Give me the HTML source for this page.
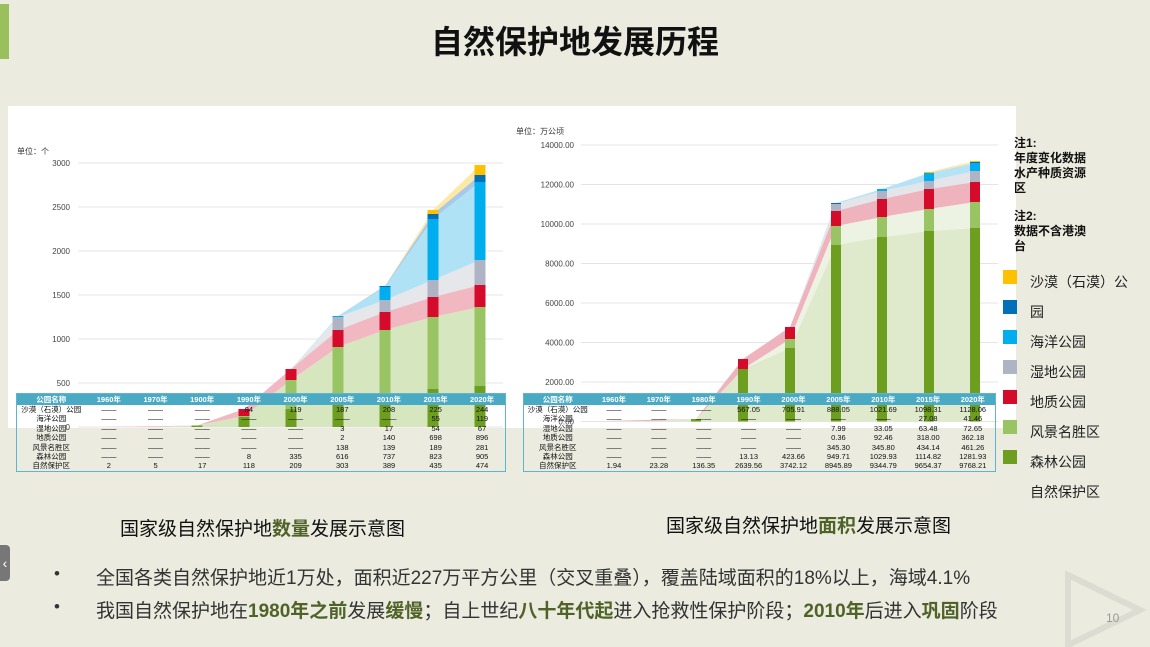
<!DOCTYPE html>
<html><head><meta charset="utf-8"><style>
*{margin:0;padding:0;box-sizing:border-box}
body{width:1150px;height:647px;overflow:hidden;background:#ebebdf;position:relative;font-family:"Liberation Sans","Noto Sans CJK SC",sans-serif}
.abs{position:absolute}
table.t{position:absolute;border-collapse:collapse;table-layout:fixed;font-size:7.5px;color:#111;border:1.5px solid #5fb4cf}
table.t td{padding:0;text-align:center;white-space:nowrap;overflow:hidden;height:9.4px;line-height:9.4px}
table.t tr.h td{background:#4aaac4;color:#fff;font-weight:bold;height:11px;line-height:11px}
.leg{position:absolute;left:1030px;font-size:14px;color:#222}
.sw{position:absolute;left:1003px;width:14px;height:14px}
.b{color:#4f6228;font-weight:bold}
</style></head><body>
<div class="abs" style="left:0;top:4px;width:9px;height:55px;background:#9bbf5a"></div>
<div class="abs" style="left:0;top:22px;width:1150px;text-align:center;font-size:32px;font-weight:bold;color:#111;line-height:40px">自然保护地发展历程</div>
<div class="abs" style="left:8px;top:106px;width:1008px;height:322px;background:#fff"></div>
<svg class="abs" style="left:0;top:0" width="1150" height="647">
<g stroke="#e4e4e4" stroke-width="1">
<line x1="78" x2="503" y1="163" y2="163"/><line x1="78" x2="503" y1="207" y2="207"/><line x1="78" x2="503" y1="251" y2="251"/><line x1="78" x2="503" y1="295" y2="295"/><line x1="78" x2="503" y1="339" y2="339"/><line x1="78" x2="503" y1="383" y2="383"/><line x1="78" x2="503" y1="427" y2="427"/>
<line x1="581" x2="998" y1="145" y2="145"/><line x1="581" x2="998" y1="184.5" y2="184.5"/><line x1="581" x2="998" y1="224" y2="224"/><line x1="581" x2="998" y1="263.5" y2="263.5"/><line x1="581" x2="998" y1="303" y2="303"/><line x1="581" x2="998" y1="342.5" y2="342.5"/><line x1="581" x2="998" y1="382" y2="382"/><line x1="581" x2="998" y1="421.5" y2="421.5"/>
</g>
<g font-size="8" fill="#444" text-anchor="end">
<text x="70" y="166">3000</text><text x="70" y="210">2500</text><text x="70" y="254">2000</text><text x="70" y="298">1500</text><text x="70" y="342">1000</text><text x="70" y="386">500</text><text x="70" y="430">0</text>
<text x="574" y="148">14000.00</text><text x="574" y="187.5">12000.00</text><text x="574" y="227">10000.00</text><text x="574" y="266.5">8000.00</text><text x="574" y="306">6000.00</text><text x="574" y="345.5">4000.00</text><text x="574" y="385">2000.00</text><text x="574" y="424.5">0.00</text>
</g>
<text x="17" y="154" font-size="8" fill="#333">单位：个</text>
<text x="516" y="134" font-size="8" fill="#333">单位：万公顷</text>
<polygon fill="#d6e7c0" points="103,427 150,427 197,425.5 244,416 291,380 338,347 385,330 433,317 480,307 480,427"/>
<polygon fill="#f2b8c2" points="103,427 150,427 197,425.5 244,409 291,369 338,330 385,312 433,297 480,285 480,307 433,317 385,330 338,347 291,380 244,416 197,425.5"/>
<polygon fill="#e5e7eb" points="244,409 291,369 338,317 385,300 433,280 480,260 480,285 433,297 385,312 338,330 291,369"/>
<polygon fill="#b0e2f6" points="291,369 338,316 385,287 433,219 480,182 480,260 433,280 385,300 338,317"/>
<polygon fill="#a9c9e6" points="338,316 385,286 433,214 480,175 480,182 433,219 385,287"/>
<polygon fill="#fde8a6" points="338,316 385,286 433,210 480,165 480,175 433,214 385,286"/>
<g>
<rect x="191.5" y="425.5" width="11" height="1.5" fill="#6e9e1f"/>
<rect x="238.5" y="417" width="11" height="10" fill="#6e9e1f"/><rect x="238.5" y="416" width="11" height="1" fill="#98c464"/><rect x="238.5" y="409" width="11" height="7" fill="#d40b2a"/>
<rect x="285.5" y="409" width="11" height="18" fill="#6e9e1f"/><rect x="285.5" y="380" width="11" height="29" fill="#98c464"/><rect x="285.5" y="369" width="11" height="11" fill="#d40b2a"/>
<rect x="332.5" y="400" width="11" height="27" fill="#6e9e1f"/><rect x="332.5" y="347" width="11" height="53" fill="#98c464"/><rect x="332.5" y="330" width="11" height="17" fill="#d40b2a"/><rect x="332.5" y="317" width="11" height="13" fill="#aeb4c4"/><rect x="332.5" y="316" width="11" height="1" fill="#00aeef"/>
<rect x="379.5" y="393" width="11" height="34" fill="#6e9e1f"/><rect x="379.5" y="330" width="11" height="63" fill="#98c464"/><rect x="379.5" y="312" width="11" height="18" fill="#d40b2a"/><rect x="379.5" y="300" width="11" height="12" fill="#aeb4c4"/><rect x="379.5" y="287" width="11" height="13" fill="#00aeef"/><rect x="379.5" y="286" width="11" height="1" fill="#0070b8"/>
<rect x="427.5" y="389" width="11" height="38" fill="#6e9e1f"/><rect x="427.5" y="317" width="11" height="72" fill="#98c464"/><rect x="427.5" y="297" width="11" height="20" fill="#d40b2a"/><rect x="427.5" y="280" width="11" height="17" fill="#aeb4c4"/><rect x="427.5" y="219" width="11" height="61" fill="#00aeef"/><rect x="427.5" y="214" width="11" height="5" fill="#0070b8"/><rect x="427.5" y="210" width="11" height="4" fill="#ffc000"/>
<rect x="474.5" y="386" width="11" height="41" fill="#6e9e1f"/><rect x="474.5" y="307" width="11" height="79" fill="#98c464"/><rect x="474.5" y="285" width="11" height="22" fill="#d40b2a"/><rect x="474.5" y="260" width="11" height="25" fill="#aeb4c4"/><rect x="474.5" y="182" width="11" height="78" fill="#00aeef"/><rect x="474.5" y="175" width="11" height="7" fill="#0070b8"/><rect x="474.5" y="165" width="11" height="10" fill="#ffc000"/>
</g>
<polygon fill="#dfeacd" points="603,421 650,421 696,419 743,369 790,348 836,245 882,237 929,231 975,228 975,421.5 603,421.5"/>
<polygon fill="#edf3e3" points="743,369 790,339 836,226 882,217 929,209 975,202 975,228 929,231 882,237 836,245 790,348"/>
<polygon fill="#efb3bd" points="603,421 650,421 696,419 743,359 790,327 836,211 882,199 929,189 975,182 975,202 929,209 882,217 836,226 790,339 743,369 696,419"/>
<polygon fill="#e3e5ea" points="790,327 836,204 882,191 929,181 975,171 975,182 929,189 882,199 836,211"/>
<polygon fill="#b5e3f5" points="790,327 836,203 882,189 929,173 975,163 975,171 929,181 882,191 836,204"/>
<polygon fill="#fde8a6" points="929,172 975,161 975,163 929,173"/>
<g>
<rect x="691" y="419" width="10" height="2.5" fill="#6e9e1f"/>
<rect x="738" y="369" width="10" height="52.5" fill="#6e9e1f"/><rect x="738" y="359" width="10" height="10" fill="#d40b2a"/>
<rect x="785" y="348" width="10" height="73.5" fill="#6e9e1f"/><rect x="785" y="339" width="10" height="9" fill="#98c464"/><rect x="785" y="327" width="10" height="12" fill="#d40b2a"/>
<rect x="831" y="245" width="10" height="176.5" fill="#6e9e1f"/><rect x="831" y="226" width="10" height="19" fill="#98c464"/><rect x="831" y="211" width="10" height="15" fill="#d40b2a"/><rect x="831" y="204" width="10" height="7" fill="#aeb4c4"/><rect x="831" y="203" width="10" height="1" fill="#0070b8"/>
<rect x="877" y="237" width="10" height="184.5" fill="#6e9e1f"/><rect x="877" y="217" width="10" height="20" fill="#98c464"/><rect x="877" y="199" width="10" height="18" fill="#d40b2a"/><rect x="877" y="191" width="10" height="8" fill="#aeb4c4"/><rect x="877" y="189" width="10" height="2" fill="#00aeef"/>
<rect x="924" y="231" width="10" height="190.5" fill="#6e9e1f"/><rect x="924" y="209" width="10" height="22" fill="#98c464"/><rect x="924" y="189" width="10" height="20" fill="#d40b2a"/><rect x="924" y="181" width="10" height="8" fill="#aeb4c4"/><rect x="924" y="173" width="10" height="8" fill="#00aeef"/><rect x="924" y="172" width="10" height="1" fill="#ffc000"/>
<rect x="970" y="228" width="10" height="193.5" fill="#6e9e1f"/><rect x="970" y="202" width="10" height="26" fill="#98c464"/><rect x="970" y="182" width="10" height="20" fill="#d40b2a"/><rect x="970" y="171" width="10" height="11" fill="#aeb4c4"/><rect x="970" y="163" width="10" height="8" fill="#00aeef"/><rect x="970" y="162" width="10" height="1" fill="#0070b8"/><rect x="970" y="161" width="10" height="1" fill="#ffc000"/>
</g>
<polygon points="1068,575 1140,610 1068,645" fill="none" stroke="#dcdcd2" stroke-width="6"/>
</svg>
<table class="t" style="left:16px;top:393px;width:489px">
<colgroup><col style="width:69px"><col span="9" style="width:46.7px"></colgroup>
<tr class="h"><td>公园名称</td><td>1960年</td><td>1970年</td><td>1900年</td><td>1990年</td><td>2000年</td><td>2005年</td><td>2010年</td><td>2015年</td><td>2020年</td></tr>
<tr><td>沙漠（石漠）公园</td><td>——</td><td>——</td><td>——</td><td>84</td><td>119</td><td>187</td><td>208</td><td>225</td><td>244</td></tr>
<tr><td>海洋公园</td><td>——</td><td>——</td><td>——</td><td>——</td><td>——</td><td>——</td><td>——</td><td>55</td><td>119</td></tr>
<tr><td>湿地公园</td><td>——</td><td>——</td><td>——</td><td>——</td><td>——</td><td>3</td><td>17</td><td>54</td><td>67</td></tr>
<tr><td>地质公园</td><td>——</td><td>——</td><td>——</td><td>——</td><td>——</td><td>2</td><td>140</td><td>698</td><td>896</td></tr>
<tr><td>风景名胜区</td><td>——</td><td>——</td><td>——</td><td>——</td><td>——</td><td>138</td><td>139</td><td>189</td><td>281</td></tr>
<tr><td>森林公园</td><td>——</td><td>——</td><td>——</td><td>8</td><td>335</td><td>616</td><td>737</td><td>823</td><td>905</td></tr>
<tr><td>自然保护区</td><td>2</td><td>5</td><td>17</td><td>118</td><td>209</td><td>303</td><td>389</td><td>435</td><td>474</td></tr>
</table>
<table class="t" style="left:523px;top:393px;width:472px">
<colgroup><col style="width:68px"><col span="9" style="width:44.9px"></colgroup>
<tr class="h"><td>公园名称</td><td>1960年</td><td>1970年</td><td>1980年</td><td>1990年</td><td>2000年</td><td>2005年</td><td>2010年</td><td>2015年</td><td>2020年</td></tr>
<tr><td>沙漠（石漠）公园</td><td>——</td><td>——</td><td>——</td><td>567.05</td><td>705.91</td><td>888.05</td><td>1021.69</td><td>1098.31</td><td>1128.06</td></tr>
<tr><td>海洋公园</td><td>——</td><td>——</td><td>——</td><td>——</td><td>——</td><td>——</td><td>——</td><td>27.08</td><td>41.46</td></tr>
<tr><td>湿地公园</td><td>——</td><td>——</td><td>——</td><td>——</td><td>——</td><td>7.99</td><td>33.05</td><td>63.48</td><td>72.65</td></tr>
<tr><td>地质公园</td><td>——</td><td>——</td><td>——</td><td>——</td><td>——</td><td>0.36</td><td>92.46</td><td>318.00</td><td>362.18</td></tr>
<tr><td>风景名胜区</td><td>——</td><td>——</td><td>——</td><td>——</td><td>——</td><td>345.30</td><td>345.80</td><td>434.14</td><td>461.26</td></tr>
<tr><td>森林公园</td><td>——</td><td>——</td><td>——</td><td>13.13</td><td>423.66</td><td>949.71</td><td>1029.93</td><td>1114.82</td><td>1281.93</td></tr>
<tr><td>自然保护区</td><td>1.94</td><td>23.28</td><td>136.35</td><td>2639.56</td><td>3742.12</td><td>8945.89</td><td>9344.79</td><td>9654.37</td><td>9768.21</td></tr>
</table>
<div class="abs" style="left:1014px;top:136px;font-size:12px;font-weight:bold;line-height:15px;color:#111;width:90px">注1:<br>年度变化数据<br>水产种质资源<br>区<br><div style="height:13px"></div>注2:<br>数据不含港澳<br>台</div>
<div class="sw" style="top:270px;background:#ffc000"></div><div class="leg" style="top:272px">沙漠（石漠）公</div>
<div class="sw" style="top:300px;background:#0070b8"></div><div class="leg" style="top:302px">园</div>
<div class="sw" style="top:330px;background:#00aeef"></div><div class="leg" style="top:332px">海洋公园</div>
<div class="sw" style="top:360px;background:#aeb4c4"></div><div class="leg" style="top:362px">湿地公园</div>
<div class="sw" style="top:390px;background:#d40b2a"></div><div class="leg" style="top:392px">地质公园</div>
<div class="sw" style="top:420px;background:#98c464"></div><div class="leg" style="top:422px">风景名胜区</div>
<div class="sw" style="top:450px;background:#6e9e1f"></div><div class="leg" style="top:452px">森林公园</div>
<div class="leg" style="top:482px">自然保护区</div>
<div class="abs" style="left:120px;top:514px;font-size:19px;color:#111">国家级自然保护地<span class="b">数量</span>发展示意图</div>
<div class="abs" style="left:666px;top:511px;font-size:19px;color:#111">国家级自然保护地<span class="b">面积</span>发展示意图</div>
<div class="abs" style="left:0;top:545px;width:10px;height:36px;background:#777;border-radius:0 4px 4px 0;color:#fff;font-size:14px;line-height:36px;text-align:center">‹</div>
<div class="abs" style="left:54px;top:564px;font-size:17px;color:#333">•</div>
<div class="abs" style="left:96px;top:563px;font-size:19px;color:#333;white-space:nowrap">全国各类自然保护地近1万处，面积近227万平方公里（交叉重叠），覆盖陆域面积的18%以上，海域4.1%</div>
<div class="abs" style="left:54px;top:597px;font-size:17px;color:#333">•</div>
<div class="abs" style="left:96px;top:596px;font-size:19px;color:#333;white-space:nowrap">我国自然保护地在<span class="b">1980年之前</span>发展<span class="b">缓慢</span>；自上世纪<span class="b">八十年代起</span>进入抢救性保护阶段；<span class="b">2010年</span>后进入<span class="b">巩固</span>阶段</div>
<div class="abs" style="left:1106px;top:611px;font-size:12px;color:#999">10</div>
</body></html>
